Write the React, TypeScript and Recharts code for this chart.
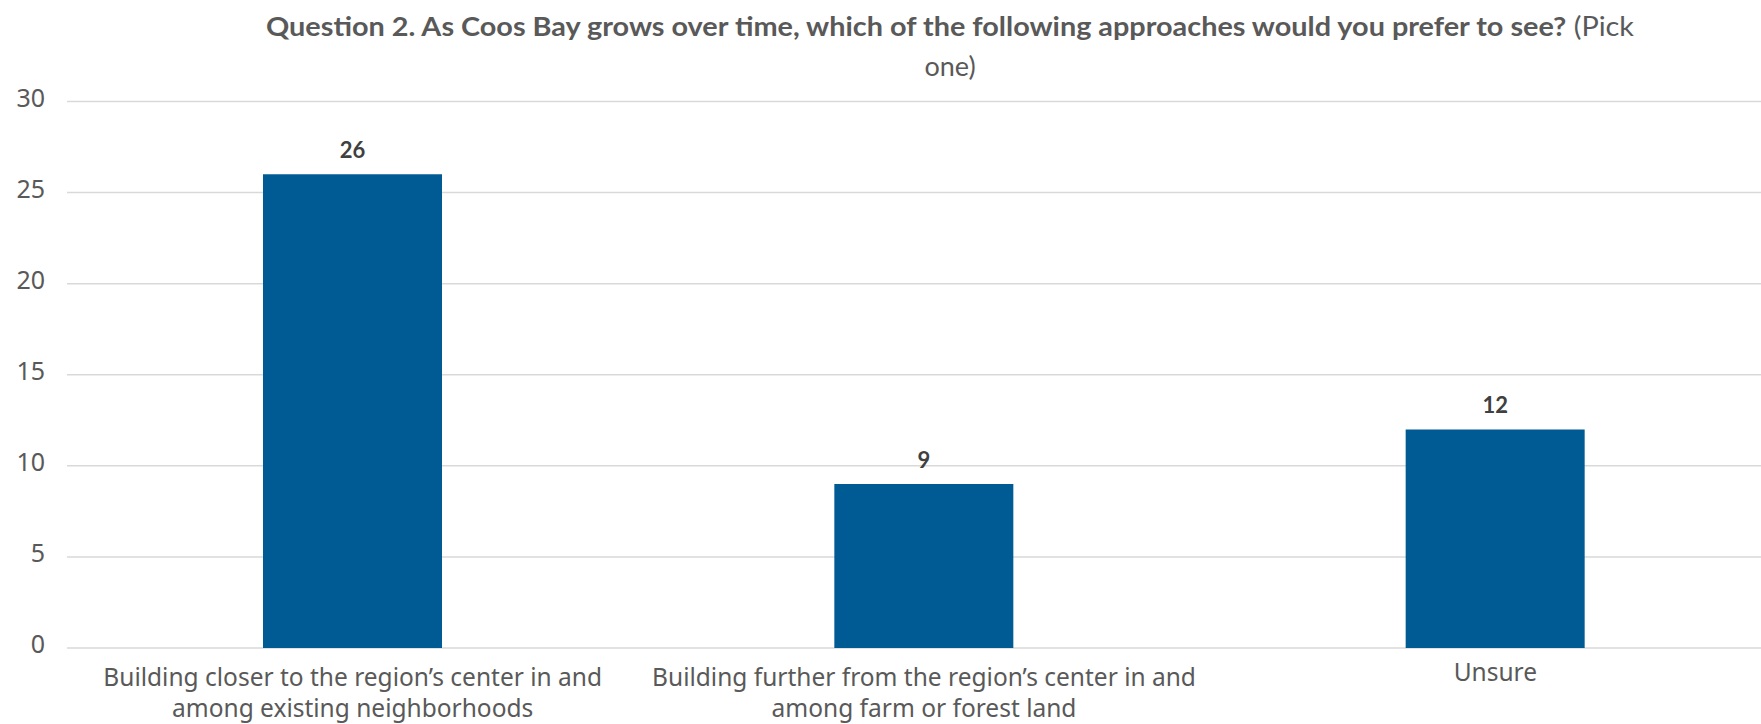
import React from "react";
import { BarChart, Bar, XAxis, YAxis, CartesianGrid, LabelList } from "recharts";

const categories = [
  "Building closer to the region\u2019s center in and among existing neighborhoods",
  "Building further from the region\u2019s center in and among farm or forest land",
  "Unsure",
];
const tickLines: string[][] = [
  ["Building closer to the region\u2019s center in and", "among existing neighborhoods"],
  ["Building further from the region\u2019s center in and", "among farm or forest land"],
  ["Unsure"],
];
const counts = [26, 9, 12];
const yTicks = [0, 5, 10, 15, 20, 25, 30];
const titleBold = "Question 2. As Coos Bay grows over time, which of the following approaches would you prefer to see?";
const titleRegular1 = " (Pick";
const titleRegular2 = "one)";

const data = categories.map((c, i) => ({ name: c, idx: i, value: counts[i] }));

const TEXT = "#595959";

const XTick = (props: any) => {
  const { x, y, index } = props;
  const lines = tickLines[index] || [];
  const first = lines.length > 1 ? 38 : 33;
  return (
    <text x={x} y={y} textAnchor="middle" fill={TEXT} fontFamily="'Noto Sans', sans-serif" fontSize={24.5}>
      {lines.map((l, i) => (
        <tspan key={i} x={x} y={y + first + i * 31}>
          {l}
        </tspan>
      ))}
    </text>
  );
};

const YTick = (props: any) => {
  const { x, y, payload } = props;
  return (
    <text x={x} y={y + 5} textAnchor="end" fill={TEXT} fontFamily="'Noto Sans', sans-serif" fontSize={25}>
      {payload.value}
    </text>
  );
};

export default function App() {
  return (
    <div style={{ position: "fixed", left: 0, top: 0, width: 1761, height: 724, overflow: "hidden", background: "#fff" }}>
      <BarChart
        width={1781}
        height={724}
        data={data}
        margin={{ top: 101.5, right: 0, bottom: 0, left: 0 }}
      >
        <CartesianGrid horizontal vertical={false} stroke="#D9D9D9" strokeWidth={1.5} />
        <XAxis
          dataKey="name"
          axisLine={false}
          tickLine={false}
          tickSize={0}
          tickMargin={0}
          height={76}
          interval={0}
          tick={<XTick />}
        />
        <YAxis
          domain={[0, 30]}
          ticks={yTicks}
          width={67}
          axisLine={false}
          tickLine={false}
          tickSize={0}
          tickMargin={22}
          tick={<YTick />}
        />
        <Bar dataKey="value" fill="#005B94" barSize={179} isAnimationActive={false}>
          <LabelList
            dataKey="value"
            position="top"
            offset={16}
            fill="#404040"
            fontFamily="Lato, sans-serif"
            fontWeight={700}
            fontSize={22}
          />
        </Bar>
      </BarChart>
      <svg width={1761} height={724} style={{ position: "absolute", left: 0, top: 0, pointerEvents: "none" }}>
        <text
          x={266}
          y={36}
          fill={TEXT}
          fontFamily="Lato, sans-serif"
          fontSize={27}
          textLength={1368}
          lengthAdjust="spacingAndGlyphs"
        >
          <tspan fontWeight={700}>{titleBold}</tspan>
          <tspan fontWeight={400}>{titleRegular1}</tspan>
        </text>
        <text x={950} y={76} textAnchor="middle" fill={TEXT} fontFamily="Lato, sans-serif" fontSize={27}>
          {titleRegular2}
        </text>
      </svg>
    </div>
  );
}
